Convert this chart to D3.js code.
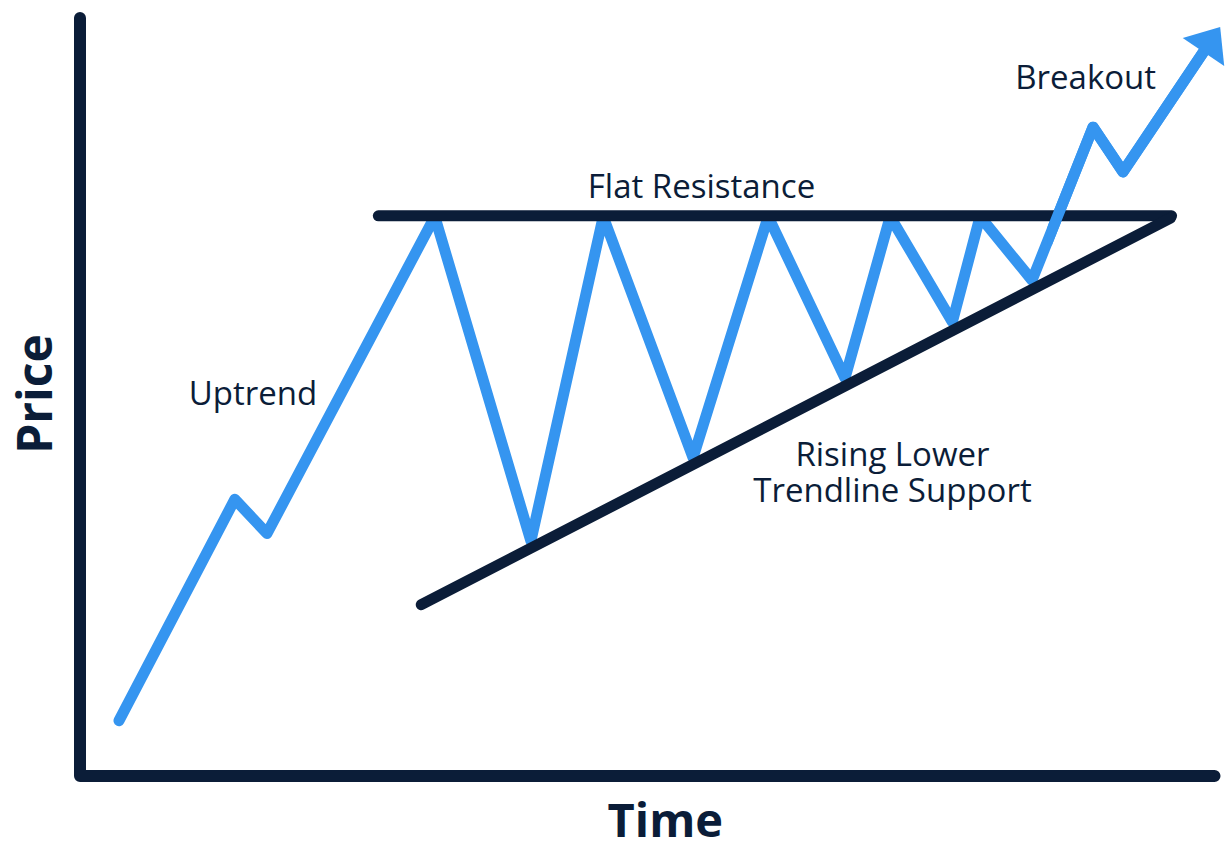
<!DOCTYPE html>
<html>
<head>
<meta charset="utf-8">
<script src="https://cdn.jsdelivr.net/npm/d3@7"></script>
<style>
  body { margin: 0; background: #fff; }
  text { font-family: "Open Sans", Roboto, sans-serif; fill: #0b1d38; }
</style>
</head>
<body>
<script>
    //canvas size
    var width = 1225;
    var height = 849;

    //price path (time 0-100, price 0-100)
    var priceTime  = [3.45, 13.7, 16.55, 31.4, 39.9, 46.3, 54.25, 60.9, 67.7, 71.7, 77.2, 79.65, 84.25, 89.65, 92.3, 100.9];
    var priceValue = [7.3, 36.5, 32.0, 73.8, 31.0, 73.8, 42.0, 73.8, 52.5, 73.8, 59.9, 73.8, 65.4, 85.6, 79.7, 98.8];

    //flat resistance + rising support (start, end)
    var resistanceTime  = [26.4, 96.6];
    var resistanceValue = [73.9, 73.9];
    var supportTime  = [30.2, 96.5];
    var supportValue = [22.6, 73.6];

    //labels
    var labelText = ["Uptrend", "Flat Resistance", "Breakout", "Rising Lower", "Trendline Support"];
    var labelTime = [15.3, 55.0, 89.0, 71.9, 71.9];
    var labelValue = [49.0, 76.3, 90.6, 40.9, 36.1];

    var navy = "#0b1d38";
    var blue = "#3595f0";

    var x = d3.scaleLinear().domain([0, 100]).range([80, 1210]);
    var y = d3.scaleLinear().domain([0, 100]).range([776, 18]);

    var svg = d3.select("body")
                .append("svg")
                .attr("width", width)
                .attr("height", height);

    var line = d3.line()
                 .x(function(d) { return x(d[0]); })
                 .y(function(d) { return y(d[1]); });

    //axes as one L shaped path
    svg.append("path")
       .attr("d", line([[0, 100], [0, 0], [100.4, 0]]))
       .attr("fill", "none")
       .attr("stroke", navy)
       .attr("stroke-width", 12)
       .attr("stroke-linecap", "round")
       .attr("stroke-linejoin", "round");

    //price points, last one is the arrow tip
    var pts = priceTime.map(function(t, i) { return [t, priceValue[i]]; });
    var n = pts.length;

    //arrow head, done in pixel space
    var tip = [x(pts[n-1][0]), y(pts[n-1][1])];
    var prev = [x(pts[n-2][0]), y(pts[n-2][1])];
    var dx = tip[0] - prev[0], dy = tip[1] - prev[1];
    var len = Math.sqrt(dx*dx + dy*dy);
    var ux = dx/len, uy = dy/len;
    var headLen = 30, headHalf = 25;
    var base = [tip[0] - ux*headLen, tip[1] - uy*headLen];

    var pixLine = d3.line();
    var pixPts = pts.map(function(d) { return [x(d[0]), y(d[1])]; });
    pixPts[n-1] = [base[0] + ux*4, base[1] + uy*4];

    function drawPrice(g) {
        g.append("path")
         .attr("d", pixLine(pixPts))
         .attr("fill", "none")
         .attr("stroke", blue)
         .attr("stroke-width", 11)
         .attr("stroke-linecap", "round")
         .attr("stroke-linejoin", "round");
    }

    drawPrice(svg.append("g"));

    //trend lines
    var trendLines = [
        [[resistanceTime[0], resistanceValue[0]], [resistanceTime[1], resistanceValue[1]]],
        [[supportTime[0], supportValue[0]], [supportTime[1], supportValue[1]]]
    ];
    svg.selectAll("path.trend")
       .data(trendLines)
       .enter()
       .append("path")
       .attr("class", "trend")
       .attr("d", line)
       .attr("fill", "none")
       .attr("stroke", navy)
       .attr("stroke-width", 11)
       .attr("stroke-linecap", "round");

    //breakout part sits on top of the resistance line
    svg.append("clipPath")
       .attr("id", "breakClip")
       .append("rect")
       .attr("x", x(85.6))
       .attr("y", 0)
       .attr("width", width)
       .attr("height", y(70));
    drawPrice(svg.append("g").attr("clip-path", "url(#breakClip)"));

    svg.append("path")
       .attr("d", "M" + tip[0] + "," + tip[1] +
                  "L" + (base[0] - uy*headHalf) + "," + (base[1] + ux*headHalf) +
                  "L" + (base[0] + uy*headHalf) + "," + (base[1] - ux*headHalf) + "Z")
       .attr("fill", blue);

    //annotation labels
    svg.selectAll("text.lbl")
       .data(labelText)
       .enter()
       .append("text")
       .attr("class", "lbl")
       .attr("x", function(d, i) { return x(labelTime[i]); })
       .attr("y", function(d, i) { return y(labelValue[i]); })
       .style("text-anchor", "middle")
       .attr("font-size", "33px")
       .text(function(d) { return d; });

    //axis titles
    svg.append("text")
       .attr("x", x(51.8))
       .attr("y", 837)
       .style("text-anchor", "middle")
       .attr("font-size", "47px")
       .attr("font-weight", "bold")
       .text("Time");

    svg.append("text")
       .attr("transform", "translate(52," + 394 + ") rotate(-90)")
       .style("text-anchor", "middle")
       .attr("font-size", "48px")
       .attr("font-weight", "bold")
       .text("Price");
</script>
</body>
</html>
